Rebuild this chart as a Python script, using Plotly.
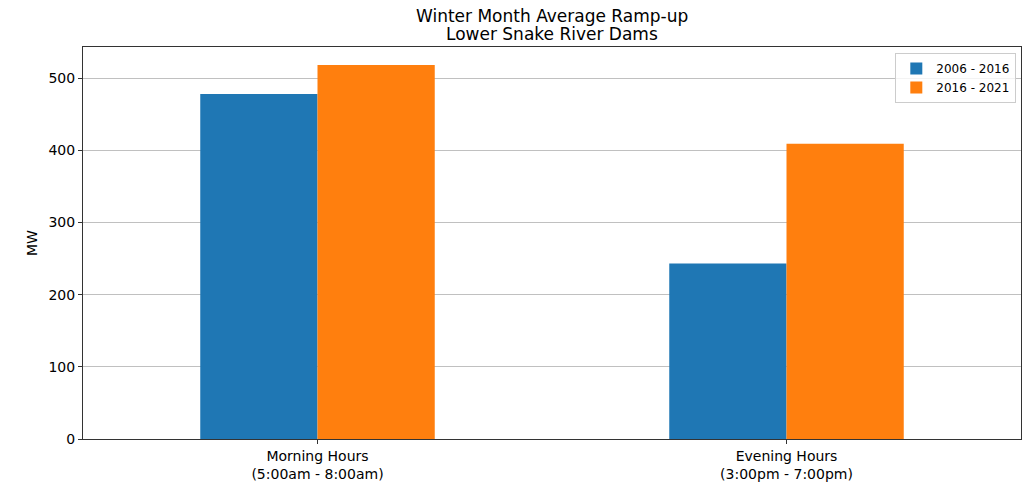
import plotly.graph_objects as go

categories = ["Morning Hours<br>(5:00am - 8:00am)", "Evening Hours<br>(3:00pm - 7:00pm)"]
series_names = ["2006 - 2016", "2016 - 2021"]
values_2006_2016 = [478, 243]
values_2016_2021 = [518, 409]
colors = ["#1f77b4", "#ff7f0e"]
title_lines = ["Winter Month Average Ramp-up", "Lower Snake River Dams"]

fig = go.Figure()
for name, vals, c in zip(series_names, [values_2006_2016, values_2016_2021], colors):
    fig.add_trace(go.Bar(x=categories, y=vals, name=name, marker=dict(color=c, line=dict(width=0))))

font = "DejaVu Sans"
plot_h = 484 - 47 - 45
for line, ypx in zip(title_lines, [16, 34]):
    fig.add_annotation(text=line, xref="paper", yref="paper", x=0.5, xanchor="center",
                       y=1 + (47 - ypx) / plot_h, yanchor="middle", showarrow=False,
                       font=dict(family=font, size=17, color="black"))

fig.update_layout(
    width=1030, height=484,
    margin=dict(l=83, r=9, t=47, b=45, autoexpand=False),
    paper_bgcolor="white", plot_bgcolor="white",
    barmode="group", bargap=0.5, bargroupgap=0,
    font=dict(family=font, size=12, color="black"),
    legend=dict(x=0.995, xanchor="right", y=0.985, yanchor="top",
                bordercolor="#cccccc", borderwidth=1, bgcolor="rgba(255,255,255,0.8)",
                font=dict(family=font, size=12), tracegroupgap=0),
    xaxis=dict(type="category", range=[-0.5, 1.5], showline=True, linecolor="#333333", linewidth=1,
               mirror=True, ticks="outside", ticklen=4, tickcolor="#333333", automargin=False,
               tickfont=dict(family=font, size=14), showgrid=False),
    yaxis=dict(range=[0, 543], showline=True, linecolor="#333333", linewidth=1, mirror=True,
               ticks="outside", ticklen=4, tickcolor="#333333", dtick=100, automargin=False,
               showgrid=True, gridcolor="#c0c0c0", gridwidth=1, zeroline=False,
               tickfont=dict(family=font, size=14),
               title=dict(text="MW", font=dict(family=font, size=14), standoff=7)),
)

fig.write_html("out.html", post_script="document.body.style.margin='0';",
               config={"displayModeBar": False})
